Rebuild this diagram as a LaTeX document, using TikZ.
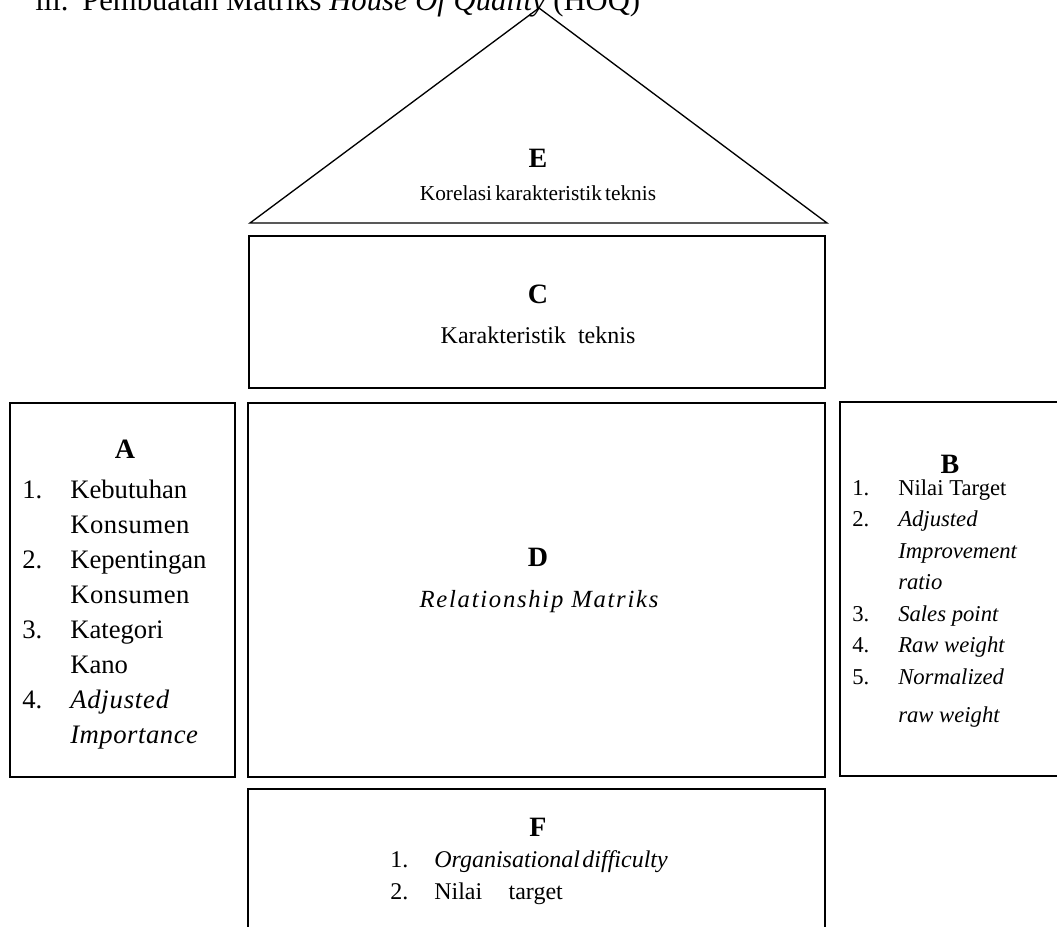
\documentclass[tikz,border=0pt]{standalone}
\usepackage{fontspec}
\setmainfont{Liberation Serif}
\newcommand\fsz[1]{\fontsize{#1}{#1}\selectfont}
\begin{document}
\begin{tikzpicture}[x=0.75pt,y=-0.75pt,
  frame/.style={draw=black, line width=1pt, inner sep=0pt, outer sep=0pt, anchor=north west},
  letter/.style={font=\fsz{21}\bfseries, inner sep=0pt, anchor=base},
  ctext/.style={inner sep=0pt, anchor=base},
  ltext/.style={inner sep=0pt, anchor=base west},
  lineE/.style={draw=black, line width=1pt}]
\useasboundingbox (0,0) rectangle (1057,926);
\clip (0,0) rectangle (1057,926);
% title (cropped at top, as in the reference)
\node[ltext, font=\fsz{23}] (title) at (35,10) {iii.\hspace{0.45em}Pembuatan Matriks \textit{House Of Quality} (HOQ)};
% roof E
\coordinate (apex) at (539,8);
\coordinate (rl) at (250,223);
\coordinate (rr) at (827,223);
\draw[lineE] (rl) -- (apex) -- (rr) -- cycle;
\node[letter] (Eh) at (538,167) {E};
\node[ctext, font=\fsz{16}] (Et) at (538,200) {Korelasi\hspace{0.15em}karakteristik\hspace{0.15em}teknis};
% boxes
\node[frame, minimum width=432pt, minimum height=114pt] (C) at (249,236) {};
\node[frame, minimum width=432.75pt, minimum height=280.5pt] (D) at (248,403) {};
\node[frame, minimum width=168.75pt, minimum height=280.5pt] (A) at (10,403) {};
\node[frame, minimum width=175pt, minimum height=280.5pt] (B) at (840,402) {};
\node[frame, minimum width=432.75pt, minimum height=113.25pt] (F) at (248,789) {};
% C
\node[letter] (Ch) at (538,303) {C};
\node[ctext, font=\fsz{18}] (Ct) at (538,343) {Karakteristik\ \ teknis};
% D
\node[letter] (Dh) at (538,566) {D};
\node[ctext, font=\fsz{18.5}\itshape] (Dt) at (539,607) {\addfontfeature{LetterSpace=7}Relationship Matriks};
% A
\node[letter] (Ah) at (125,458) {A};
\begin{scope}[font=\fsz{20}]
\node[ltext] (An1) at (22,498) {1.};
\node[ltext] (At1) at (70,498) {Kebutuhan};
\node[ltext] (At1b) at (70,533) {\addfontfeature{LetterSpace=2}Konsumen};
\node[ltext] (An2) at (22,568) {2.};
\node[ltext] (At2) at (70,568) {Kepentingan};
\node[ltext] (At2b) at (70,603) {\addfontfeature{LetterSpace=2}Konsumen};
\node[ltext] (An3) at (22,638) {3.};
\node[ltext] (At3) at (70,638) {Kategori};
\node[ltext] (At3b) at (70,673) {Kano};
\node[ltext] (An4) at (22,708) {4.};
\node[ltext] (At4) at (70,708) {\itshape\addfontfeature{LetterSpace=3}Adjusted};
\node[ltext] (At4b) at (70,743) {\itshape\addfontfeature{LetterSpace=2}Importance};
\end{scope}
% B
\node[letter] (Bh) at (950,473) {B};
\begin{scope}[font=\fsz{17}]
\node[ltext] (Bn1) at (852,495) {1.};
\node[ltext] (Bt1) at (898,495) {Nilai Target};
\node[ltext] (Bn2) at (852,526.5) {2.};
\node[ltext] (Bt2) at (898,526.5) {\itshape Adjusted};
\node[ltext] (Bt2b) at (898,558) {\itshape Improvement};
\node[ltext] (Bt2c) at (898,589.5) {\itshape ratio};
\node[ltext] (Bn3) at (852,621) {3.};
\node[ltext] (Bt3) at (898,621) {\itshape Sales point};
\node[ltext] (Bn4) at (852,652.5) {4.};
\node[ltext] (Bt4) at (898,652.5) {\itshape Raw weight};
\node[ltext] (Bn5) at (852,684) {5.};
\node[ltext] (Bt5) at (898,684) {\itshape Normalized};
\node[ltext] (Bt5b) at (898,722) {\itshape raw weight};
\end{scope}
% F
\node[letter] (Fh) at (538,836) {F};
\begin{scope}[font=\fsz{18}]
\node[ltext] (Fn1) at (390,867) {1.};
\node[ltext] (Ft1) at (434,867) {\itshape Organisational\hspace{0.1em}difficulty};
\node[ltext] (Fn2) at (390,899) {2.};
\node[ltext] (Ft2) at (434,899) {Nilai\hspace{1.1em}target};
\end{scope}
\end{tikzpicture}
\end{document}
